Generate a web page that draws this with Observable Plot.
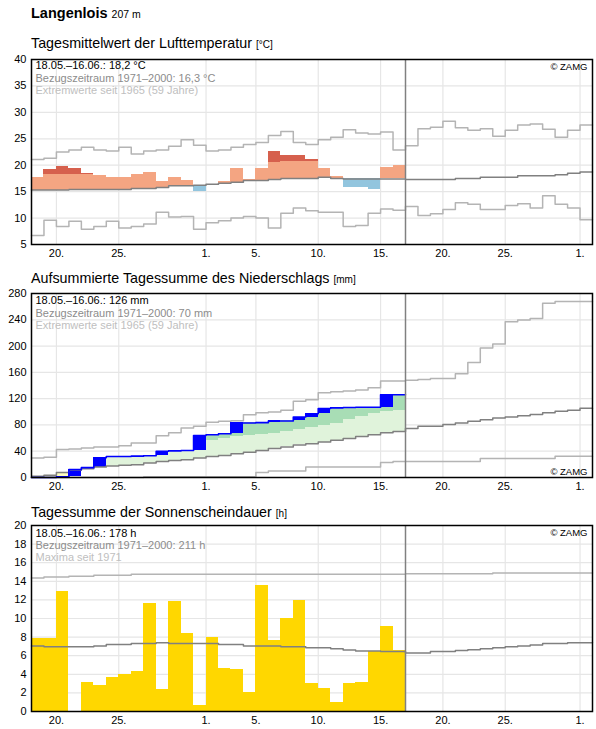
<!DOCTYPE html>
<html>
<head>
<meta charset="utf-8">
<script src="https://cdn.jsdelivr.net/npm/d3@7"></script>
<script src="https://cdn.jsdelivr.net/npm/@observablehq/plot@0.6"></script>
<style>
  body { margin: 0; background: #fff; font-family: Arial, "Liberation Sans", sans-serif; }
  #chart { position: relative; width: 596px; height: 729px; overflow: hidden; background: #fff; }
  .t { position: absolute; left: 31px; white-space: nowrap; color: #000; line-height: 1; }
  .u { font-size: 10px; }
  .panel { position: absolute; left: 0; }
</style>
</head>
<body>
<div id="chart">
  <div class="t" style="top:6px;font-size:14.5px;font-weight:bold">Langenlois <span style="font-size:10.5px;font-weight:normal">207 m</span></div>
  <div class="t" style="top:36.4px;font-size:14.3px">Tagesmittelwert der Lufttemperatur <span class="u">[°C]</span></div>
  <div class="t" style="top:271.2px;font-size:14.3px">Aufsummierte Tagessumme des Niederschlags <span class="u">[mm]</span></div>
  <div class="t" style="top:505.2px;font-size:14.3px">Tagessumme der Sonnenscheindauer <span class="u">[h]</span></div>
</div>
<script>
// ---- time axis: 18 May – 1 July 2023, observations up to 16 June ----
const firstDay = "2023-05-18";
const dayCount = 45;
const obsCount = 30;
const tickDays = ["2023-05-20", "2023-05-25", "2023-06-01", "2023-06-05", "2023-06-10",
                  "2023-06-15", "2023-06-20", "2023-06-25", "2023-07-01"];

// ---- air temperature, daily mean [°C] ----
const tempTicks = [5, 10, 15, 20, 25, 30, 35, 40];
const tempObs = [17.6, 19.1, 19.8, 19.4, 18.5, 18.1, 17.7, 17.7, 18.3, 18.6,
                 17.0, 17.6, 17.2, 15.0, 16.4, 16.9, 19.4, 17.3, 19.4, 22.6,
                 21.9, 21.9, 21.0, 19.4, 17.9, 15.8, 15.8, 15.5, 19.6, 20.0];
// upper limit of the "warm" band; above it the day is shaded dark red
const tempWarmLimit = [null, 18.3, 18.3, 18.3, 18.3, null, null, null, null, null,
                       null, null, null, null, null, null, null, null, null, 20.6,
                       20.7, 20.7, 20.7, null, null, null, null, null, null, null];
const tempMean = [15.3, 15.3, 15.3, 15.4, 15.4, 15.4, 15.4, 15.4, 15.6, 15.6,
                  15.8, 16.1, 16.1, 16.2, 16.4, 16.6, 16.8, 17.1, 17.1, 17.3,
                  17.5, 17.5, 17.5, 17.7, 17.5, 17.4, 17.4, 17.4, 17.4, 17.4,
                  17.3, 17.3, 17.3, 17.3, 17.5, 17.5, 17.7, 17.7, 17.7, 18.0,
                  18.0, 18.0, 18.2, 18.5, 18.7];
const tempMax = [21.1, 21.3, 22.5, 22.9, 23.4, 22.9, 22.7, 23.4, 22.1, 22.7,
                 22.9, 23.6, 24.8, 23.8, 22.7, 22.9, 23.4, 23.9, 24.3, 25.6,
                 26.4, 24.3, 23.9, 24.8, 25.3, 26.7, 26.1, 25.9, 26.3, 22.9,
                 23.7, 26.9, 27.2, 28.3, 27.1, 26.6, 26.9, 25.5, 26.6, 27.6,
                 27.8, 26.8, 25.3, 26.6, 27.6];
const tempMin = [6.7, 9.6, 8.4, 9.4, 7.9, 8.4, 9.4, 8.1, 8.4, 8.9,
                 11.1, 10.2, 10.3, 7.9, 9.1, 9.5, 10.0, 10.3, 10.0, 8.1,
                 10.9, 11.9, 11.4, 11.1, 11.1, 8.4, 8.6, 10.9, 11.7, 11.5,
                 12.2, 10.5, 10.8, 11.6, 12.9, 12.6, 11.6, 11.6, 12.4, 12.7,
                 11.9, 14.2, 12.6, 11.9, 9.7];
const tempNotes = ["18.05.–16.06.: 18,2 °C", "Bezugszeitraum 1971–2000: 16,3 °C", "Extremwerte seit 1965 (59 Jahre)"];

// ---- precipitation, running total [mm] ----
const precTicks = [0, 40, 80, 120, 160, 200, 240, 280];
const precObs = [0, 0, 1, 12, 15, 30, 32, 32, 32.5, 33,
                 40, 40.5, 41, 64, 65, 66.5, 83, 83, 83.5, 86,
                 86, 92, 97, 105, 106, 106.5, 107, 107, 126, 126];
// upper edge of the normal band (light green); above it dark green
const precUpper = [null, null, null, null, null, null, null, null, null, null,
                   null, null, null, null, 56, 59, 62.5, 63.5, 66, 67.5,
                   70, 73, 75.5, 78.5, 81.5, 89, 92.5, 97.5, 101, 101.5];
const precMean = [2, 3.5, 7.5, 11, 13.5, 16, 17.5, 18.5, 19.5, 22,
                  24.5, 26, 27, 29.5, 32, 33.5, 36, 38.5, 41, 44,
                  46.5, 49.5, 51.5, 54, 56.5, 59.5, 62.5, 65, 68, 70,
                  74.5, 78, 78, 80.5, 83, 85.5, 88, 90.5, 92, 94,
                  96, 98.5, 101, 102.5, 105.5];
const precMax = [29.5, 31, 42.5, 43.5, 45, 46.5, 46.5, 48.5, 52.5, 52.5,
                 63.5, 68, 75.5, 78, 84, 85.5, 86.5, 95.5, 98.5, 99.5,
                 102.5, 116, 118.5, 129, 130.5, 131.5, 133, 136.5, 147, 147,
                 148, 149, 150.5, 150.5, 158, 175, 197, 203, 237, 239.5,
                 242, 265, 268, 268, 268];
const precMin = [0, 0, 0, 0, 0, 0, 0, 0, 0, 1,
                 1, 1, 1, 1, 1, 1, 1, 1, 7.5, 10,
                 10, 10, 16, 16, 16, 16, 16, 16, 23, 24.5,
                 24.5, 24.5, 24.5, 24.5, 24.5, 24.5, 29, 29, 29, 29,
                 29, 29, 32.5, 32.5, 32.5];
const precNotes = ["18.05.–16.06.: 126 mm", "Bezugszeitraum 1971–2000: 70 mm", "Extremwerte seit 1965 (59 Jahre)"];

// ---- sunshine duration, daily total [h] ----
const sunTicks = [0, 2, 4, 6, 8, 10, 12, 14, 16, 18, 20];
const sunObs = [7.85, 7.85, 12.9, 0, 3.1, 2.8, 3.65, 4.0, 4.3, 11.6,
                2.4, 11.8, 8.4, 0.65, 7.95, 4.6, 4.5, 2.0, 13.5, 7.6,
                10.0, 11.9, 3.0, 2.5, 0.95, 3.0, 3.1, 6.45, 9.1, 6.55];
const sunMean = [7.05, 6.95, 6.95, 6.95, 6.95, 7.05, 7.2, 7.2, 7.3, 7.3,
                 7.4, 7.3, 7.3, 7.3, 7.3, 7.2, 7.2, 7.05, 7.05, 7.05,
                 6.95, 6.95, 6.85, 6.85, 6.75, 6.6, 6.5, 6.5, 6.45, 6.45,
                 6.3, 6.3, 6.45, 6.45, 6.55, 6.65, 6.75, 6.85, 6.95, 7.05,
                 7.15, 7.3, 7.3, 7.4, 7.4];
const sunMax = [14.35, 14.45, 14.45, 14.55, 14.55, 14.65, 14.65, 14.65, 14.75, 14.75,
                14.75, 14.75, 14.75, 14.75, 14.75, 14.75, 14.75, 14.75, 14.75, 14.75,
                14.75, 14.75, 14.75, 14.75, 14.75, 14.75, 14.75, 14.75, 14.75, 14.75,
                14.8, 14.8, 14.8, 14.8, 14.8, 14.8, 14.8, 14.9, 14.9, 14.9,
                14.9, 14.9, 14.9, 14.9, 14.9];
const sunNotes = ["18.05.–16.06.: 178 h", "Bezugszeitraum 1971–2000: 211 h", "Maxima seit 1971"];

// ---- colours ----
const C = {
  warm: "#f4a582", hot: "#d6604d", cool: "#92c5de",
  dry: "#ffffbf", wetLight: "#e0f3db", wetDark: "#a8ddb5", rain: "#0000ff",
  sun: "#ffd700", mean: "#808080", extreme: "#b4b4b4", grid: "#e6e6e6",
  note1: "#000", note2: "#8c8c8c", note3: "#c0c0c0"
};

// ---- helpers ----
const t0 = new Date(firstDay + "T00:00:00Z").getTime();
const day = i => new Date(t0 + i * 864e5);
const tickDates = tickDays.map(s => new Date(s + "T00:00:00Z"));
const steps = vals => vals.map((v, i) => ({x: day(i), y: v}))
  .concat([{x: day(vals.length), y: vals[vals.length - 1]}]);
const stepLine = (vals, stroke, w = 1.5) =>
  Plot.line(steps(vals), {x: "x", y: "y", curve: "step-after", stroke, strokeWidth: w});
const band = (rows, fill) =>
  Plot.rect(rows, {x1: d => day(d.i), x2: d => day(d.i + 1), y1: "y1", y2: "y2", fill,
                   shapeRendering: "crispEdges"});
const notes = (lines, dys) => lines.map((s, k) =>
  Plot.text([s], {text: d => d, frameAnchor: "top-left", textAnchor: "start", lineAnchor: "top",
                  dx: 4, dy: dys[k], fontSize: 11, fill: [C.note1, C.note2, C.note3][k]}));
const zamg = (anchor, dy) =>
  Plot.text(["© ZAMG"], {text: d => d, frameAnchor: anchor, textAnchor: "end", lineAnchor: "top",
                         dx: -5, dy, fontSize: 9.5, fill: "#000"});

function base(yTicks, extra) {
  return [
    Plot.gridX({ticks: tickDates, stroke: C.grid, strokeOpacity: 1, strokeWidth: 1.2}),
    Plot.gridY({ticks: yTicks, stroke: C.grid, strokeOpacity: 1, strokeWidth: 1.2}),
    ...extra,
    Plot.ruleX([day(obsCount)], {stroke: C.mean, strokeWidth: 1.5}),
    Plot.frame({stroke: "#000", strokeWidth: 1.5}),
    Plot.axisX({ticks: tickDates, tickFormat: d => d.getUTCDate() + ".", tickSize: 0,
                tickPadding: 5, label: null, fontSize: 11}),
    Plot.axisY({ticks: yTicks, tickSize: 0, tickPadding: 5, label: null, fontSize: 11})
  ];
}

function panel(top, height, marginBottom, yDomain, marks) {
  const svg = Plot.plot({
    width: 596, height, marginTop: 7, marginBottom, marginLeft: 31, marginRight: 4,
    x: {type: "utc", domain: [day(0), day(dayCount)]},
    y: {domain: yDomain},
    style: {fontFamily: "Arial, 'Liberation Sans', sans-serif", fontSize: "11px",
            color: "#000", background: "transparent", overflow: "visible"},
    marks
  });
  svg.classList.add("panel");
  svg.style.top = top + "px";
  document.getElementById("chart").appendChild(svg);
}

// ---- temperature panel ----
const tempRows = {warm: [], hot: [], cool: []};
tempObs.forEach((v, i) => {
  const m = tempMean[i], w = tempWarmLimit[i];
  if (v >= m) {
    const capped = (w != null && v > w) ? w : v;
    if (capped > m) tempRows.warm.push({i, y1: m, y2: capped});
    if (w != null && v > w) tempRows.hot.push({i, y1: w, y2: v});
  } else {
    tempRows.cool.push({i, y1: v, y2: m});
  }
});
panel(52, 210, 18, [5, 40], base(tempTicks, [
  stepLine(tempMax, C.extreme),
  stepLine(tempMin, C.extreme),
  band(tempRows.warm, C.warm),
  band(tempRows.hot, C.hot),
  band(tempRows.cool, C.cool),
  stepLine(tempMean, C.mean),
  ...notes(tempNotes, [2, 15, 27]),
  zamg("top-right", 4)
]));

// ---- precipitation panel ----
const precRows = {dry: [], light: [], dark: [], rain: []};
precObs.forEach((v, i) => {
  const m = precMean[i], u = precUpper[i];
  if (v < m) precRows.dry.push({i, y1: v, y2: m});
  else {
    const capped = (u != null && v > u) ? u : v;
    if (capped > m) precRows.light.push({i, y1: m, y2: capped});
    if (u != null && v > u) precRows.dark.push({i, y1: u, y2: v});
  }
  const prev = i ? precObs[i - 1] : 0;
  if (v > prev) precRows.rain.push({i, y1: prev, y2: v});
});
panel(286, 210, 19, [0, 280], base(precTicks, [
  band(precRows.dry, C.dry),
  band(precRows.light, C.wetLight),
  band(precRows.dark, C.wetDark),
  band(precRows.rain, C.rain),
  stepLine(precMax, C.extreme),
  stepLine(precMin, C.extreme),
  stepLine(precMean, C.mean),
  stepLine(precObs, C.rain, 1.6),
  ...notes(precNotes, [3, 15.5, 27.5]),
  zamg("bottom-right", -9)
]));

// ---- sunshine panel ----
const sunRows = sunObs.map((v, i) => ({i, y1: 0, y2: v}));
panel(518, 211, 18, [0, 20], base(sunTicks, [
  band(sunRows, C.sun),
  stepLine(sunMax, C.extreme),
  stepLine(sunMean, C.mean),
  ...notes(sunNotes, [4, 16, 27.5]),
  zamg("top-right", 4)
]));
</script>
</body>
</html>
